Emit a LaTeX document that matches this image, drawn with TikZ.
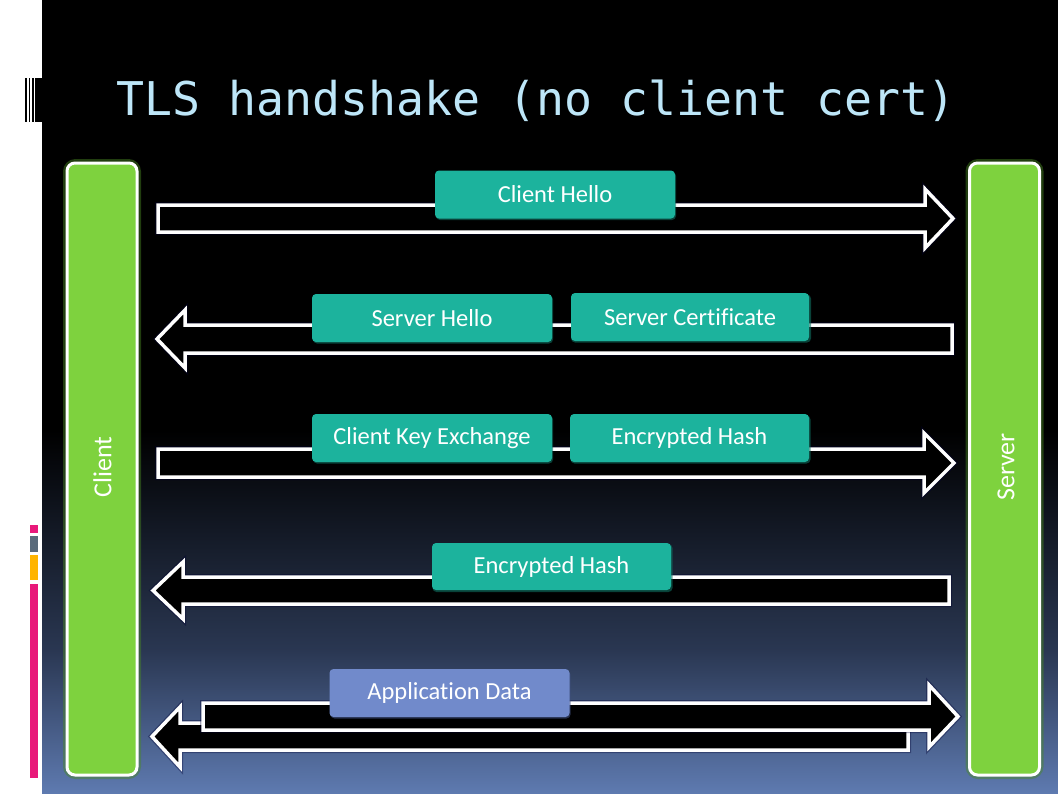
\documentclass[tikz,border=0pt]{standalone}
\usepackage{fontspec}
\setmainfont[RawFeature=-liga]{Carlito}
\newfontfamily\titlefont{DejaVu Sans Mono}
\definecolor{titleblue}{HTML}{BDE6F8}
\definecolor{teal1}{HTML}{1CB39D}
\definecolor{tealdark}{HTML}{0F6E60}
\definecolor{appblue}{HTML}{718ACB}
\definecolor{appdark}{HTML}{3E4F7E}
\definecolor{sidegreen}{HTML}{7ED23E}
\definecolor{glowgreen}{HTML}{4A8A22}
\definecolor{bgmid}{HTML}{2A3752}
\definecolor{bgbot}{HTML}{5E7AB0}
\definecolor{barpink}{HTML}{E8197A}
\definecolor{bargray}{HTML}{5A6B7B}
\definecolor{barorange}{HTML}{FFB400}
\tikzset{
  sidebox/.style={draw=white, line width=3pt, fill=sidegreen, rounded corners=8pt, inner sep=0pt},
  sideglow/.style={draw=glowgreen, line width=5pt, opacity=0.45, rounded corners=10pt, inner sep=0pt},
  sidetext/.style={text=white, font=\fontsize{26}{30}\selectfont, rotate=90, inner sep=0pt},
  blockarrow/.style={draw=white, line width=3.5pt, fill=black, line join=miter, miter limit=10},
  arrowshadow/.style={draw=black!80!blue, line width=6pt, opacity=0.35, line join=miter},
  msg/.style={fill=teal1, rounded corners=4pt, text=white, inner sep=0pt,
    font=\fontsize{24.5}{28}\selectfont, minimum width=240pt, minimum height=48pt},
  msgshadow/.style={fill=tealdark, rounded corners=4pt, inner sep=0pt, opacity=0.6,
    minimum width=240pt, minimum height=48pt},
  appmsg/.style={msg, fill=appblue},
  title/.style={text=titleblue, font=\titlefont\fontsize{46.5}{50}\selectfont, inner sep=0pt}
}
% right arrow: x0 x1(head back) x2(tip) ytop ybot headtop headbot
\newcommand{\rightblock}[7]{%
  \path[arrowshadow] (#1,#4) -- (#2,#4) -- (#2,#6) -- (#3,{(#4+#5)/2}) -- (#2,#7) -- (#2,#5) -- (#1,#5) -- cycle;
  \path[blockarrow] (#1,#4) -- (#2,#4) -- (#2,#6) -- (#3,{(#4+#5)/2}) -- (#2,#7) -- (#2,#5) -- (#1,#5) -- cycle;}
% left arrow: x0(right end) x1(head back) x2(tip) ytop ybot headtop headbot
\newcommand{\leftblock}[7]{%
  \path[arrowshadow] (#1,#4) -- (#2,#4) -- (#2,#6) -- (#3,{(#4+#5)/2}) -- (#2,#7) -- (#2,#5) -- (#1,#5) -- cycle;
  \path[blockarrow] (#1,#4) -- (#2,#4) -- (#2,#6) -- (#3,{(#4+#5)/2}) -- (#2,#7) -- (#2,#5) -- (#1,#5) -- cycle;}
\begin{document}
\begin{tikzpicture}[x=1pt,y=-1pt]
\useasboundingbox (0,0) rectangle (1058,793);
% background
\fill[white] (0,0) rectangle (42,793);
\fill[black] (42,0) rectangle (1058,793);
\shade[top color=black, bottom color=bgmid] (42,430) rectangle (1058,651);
\shade[top color=bgmid, bottom color=bgbot] (42,650) rectangle (1058,793);
% barcode marks
\fill[black] (25,78) rectangle (26.7,122);
\fill[black] (29,78) rectangle (30.3,122);
\fill[black] (31.7,78) rectangle (34,122);
\fill[black] (35.3,78) rectangle (42,122);
% coloured bars
\fill[barpink] (30,525) rectangle (38,533);
\fill[bargray] (30,536) rectangle (38,552);
\fill[barorange] (30,555) rectangle (38,580);
\fill[barpink] (30,584) rectangle (38,778);
% title
\node[title, anchor=base west] (title) at (116,115) {TLS handshake (no client cert)};
% side boxes
\node[sideglow, minimum width=73pt, minimum height=615pt] (clientglow) at (102,469) {};
\node[sideglow, minimum width=73pt, minimum height=615pt] (serverglow) at (1004.5,469) {};
\node[sidebox, minimum width=70pt, minimum height=612pt] (client) at (102,469) {};
\node[sidebox, minimum width=70pt, minimum height=612pt] (server) at (1004.5,469) {};
\node[sidetext] (clientlabel) at (102.5,467) {Client};
\node[sidetext] (serverlabel) at (1006,467) {Server};
% arrows
\rightblock{158}{925}{953}{205}{232}{189}{248}
\leftblock{952}{185}{157}{325}{353}{310}{368}
\rightblock{158}{924}{954}{449}{477}{433}{493}
\leftblock{949}{183}{153}{577}{604}{562}{619}
\leftblock{908}{180}{152}{723}{750}{707}{767}
\rightblock{203}{929}{958}{703}{730}{685}{747}
% message labels
\foreach \px/\py in {555/194.5, 432/318, 690/317, 432/438, 689.5/438, 551.5/566.5}
  \node[msgshadow] at (\px+1,\py+1.5) {};
\node[msgshadow, fill=appdark] at (450.5,694.5) {};
\node[msg] (m1) at (555,194.5) {Client Hello};
\node[msg] (m2) at (432,318) {Server Hello};
\node[msg, minimum width=238pt] (m3) at (690,317) {Server Certificate};
\node[msg] (m4) at (432,438) {Client Key Exchange};
\node[msg, minimum width=239pt] (m5) at (689.5,438) {Encrypted Hash};
\node[msg, minimum width=239pt, minimum height=47pt] (m6) at (551.5,566.5) {Encrypted Hash};
\node[appmsg] (m7) at (449.5,693) {Application Data};
\end{tikzpicture}
\end{document}
